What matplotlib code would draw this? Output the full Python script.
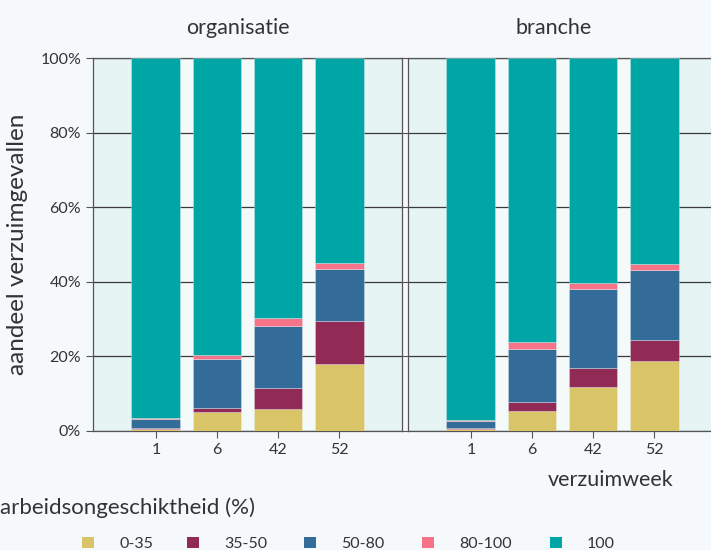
import matplotlib
matplotlib.use("Agg")
import matplotlib.pyplot as plt
from matplotlib.patches import Patch
import numpy as np

plt.rcParams['font.family'] = ['Lato', 'DejaVu Sans']

# data: share of cases (%) per disability class, per week
weeks = ["1", "6", "42", "52"]
categories = ["0-35", "35-50", "50-80", "80-100", "100"]
colors = ["#d9c468", "#922a56", "#336c98", "#f77388", "#00a5a5"]

organisatie = {
    "0-35":   [0.6, 5.2, 5.8, 18.0],
    "35-50":  [0.1, 1.0, 5.8, 11.4],
    "50-80":  [2.4, 13.0, 16.6, 14.0],
    "80-100": [0.3, 1.3, 2.0, 1.6],
    "100":    [96.6, 79.5, 69.8, 55.0],
}
branche = {
    "0-35":   [0.6, 5.4, 11.9, 18.7],
    "35-50":  [0.1, 2.5, 5.1, 5.8],
    "50-80":  [2.1, 14.2, 21.2, 18.7],
    "80-100": [0.2, 1.8, 1.6, 1.5],
    "100":    [97.0, 76.1, 60.2, 55.3],
}

txt = "#333333"
fig = plt.figure(figsize=(7.11, 5.5), dpi=100, facecolor="#f5f9fb")

W, H = 711, 550
def axrect(x0, x1, y0, y1):
    return [x0 / W, 1 - y1 / H, (x1 - x0) / W, (y1 - y0) / H]

ax1 = fig.add_axes(axrect(93, 402, 58, 431))
ax2 = fig.add_axes(axrect(408, 717, 58, 431))

x = np.arange(len(weeks))
for ax, data, title in [(ax1, organisatie, "organisatie"), (ax2, branche, "branche")]:
    ax.set_facecolor("#e6f4f4")
    # lighter stripes between bars
    for g in x[:-1]:
        ax.axvspan(g + 0.4, g + 0.6, color="white", alpha=0.6, lw=0, zorder=0)
    bottom = np.zeros(len(weeks))
    for cat, col in zip(categories, colors):
        vals = np.array(data[cat])
        ax.bar(x, vals, bottom=bottom, width=0.8, color=col,
               edgecolor=(1, 1, 1, 0.35), linewidth=0.6, zorder=3)
        bottom += vals
    ax.set_xlim(-1.03, 4.03)
    ax.set_ylim(0, 100)
    ax.set_yticks([0, 20, 40, 60, 80, 100])
    ax.set_xticks(x)
    ax.set_xticklabels(weeks)
    ax.grid(axis="y", color="#3a3a3a", linewidth=0.9, zorder=1)
    for s in ax.spines.values():
        s.set_color("#555555")
        s.set_linewidth(0.9)
    ax.tick_params(axis="both", colors="#555555", labelcolor=txt, labelsize=11.5,
                   length=5, width=0.8)
    ax.set_title(title, fontsize=15.5, color=txt, pad=17, x=0.47)

ax1.set_yticklabels(["0%", "20%", "40%", "60%", "80%", "100%"])
ax2.set_yticklabels([])
ax1.set_ylabel("aandeel verzuimgevallen", fontsize=17.5, color=txt)
ax1.yaxis.set_label_coords(-0.21, 0.5)
fig.text(611 / W, 1 - 480 / H, "verzuimweek", fontsize=15.5, color=txt,
         ha="center", va="center")
fig.text(0, 1 - 508 / H, "arbeidsongeschiktheid (%)", fontsize=16, color=txt,
         ha="left", va="center")

# one legend entry per column, at the reference positions
leg_x = [82, 187, 304, 422, 550]
for cat, col, lx in zip(categories, colors, leg_x):
    fig.legend([Patch(facecolor=col, edgecolor="none")], [cat], frameon=False,
               fontsize=11.5, loc="center left",
               bbox_to_anchor=(lx / W, 1 - 544 / H),
               borderpad=0, borderaxespad=0,
               handlelength=0.75, handleheight=0.75, handletextpad=1.57,
               labelcolor=txt)

fig.savefig("out.png", dpi=100, facecolor=fig.get_facecolor())
